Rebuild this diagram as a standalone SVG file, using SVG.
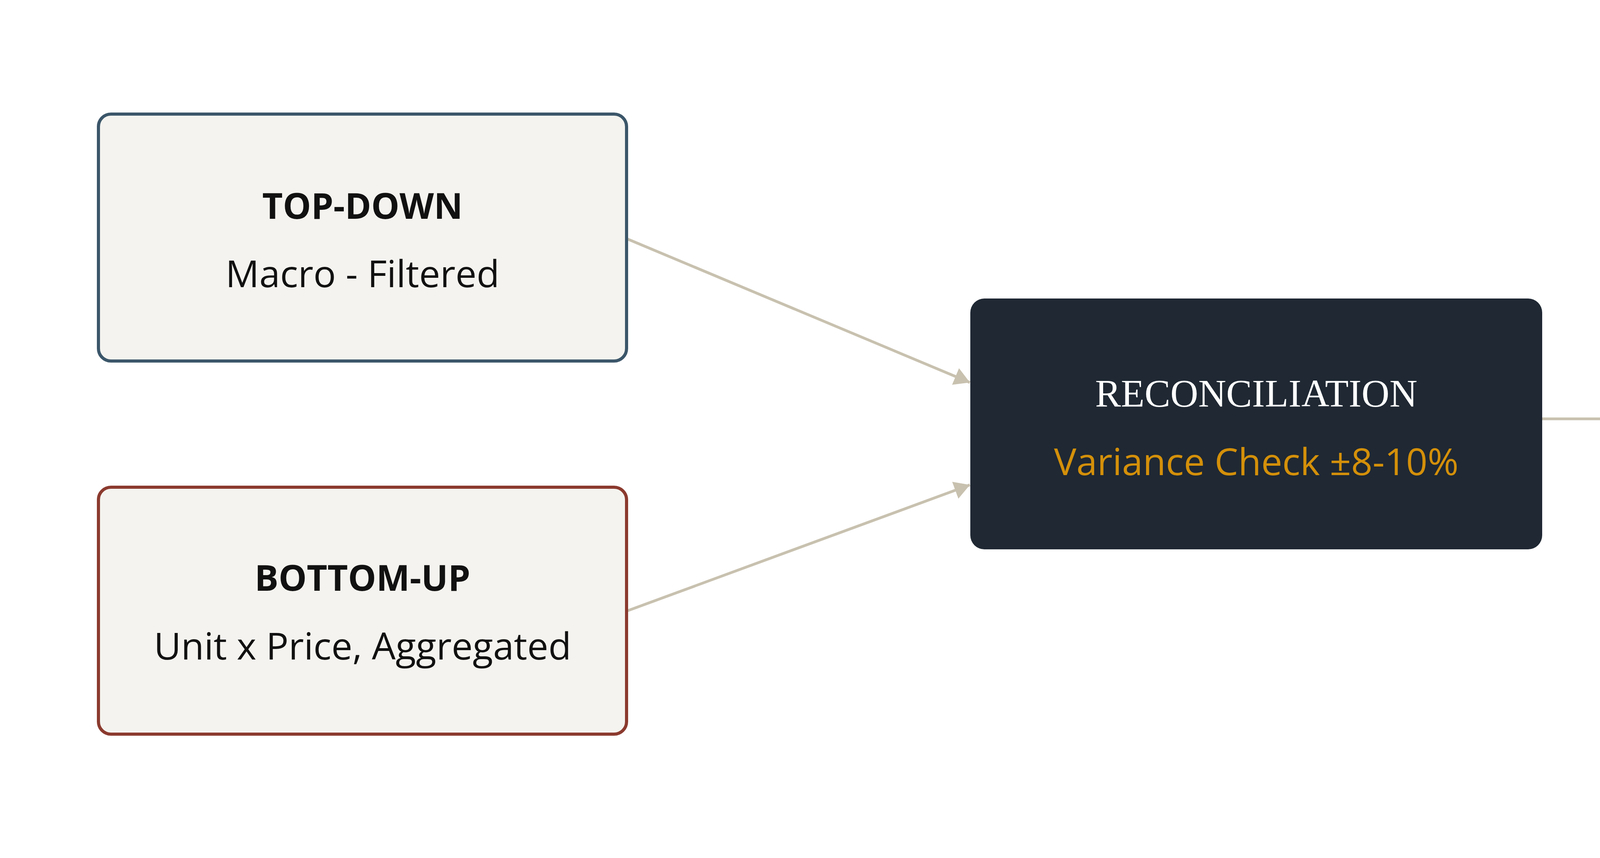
<svg xmlns="http://www.w3.org/2000/svg" width="6252" height="2196" viewBox="0 0 6252 2196">
<defs>
<style>
.box{fill:#F4F3EF;stroke-width:8}
.title{font-family:"Open Sans","Noto Sans","DejaVu Sans",sans-serif;font-weight:700;font-size:91px;fill:#111111;text-anchor:middle}
.sub{font-family:"Open Sans","Noto Sans","DejaVu Sans",sans-serif;font-weight:400;font-size:96px;fill:#111111;text-anchor:middle}
.serif{font-family:"Liberation Serif","DejaVu Serif",serif;font-size:99px;fill:#FFFFFF;text-anchor:middle}
.conn{stroke:#C8C1AF;stroke-width:7;fill:none}
</style>
<marker id="ah" markerUnits="userSpaceOnUse" markerWidth="40" markerHeight="46" refX="40" refY="23" orient="auto" viewBox="0 0 40 46">
<path d="M0,0 L40,23 L0,46 Z" fill="#C8C1AF"/>
</marker>
</defs>
<rect width="6252" height="2196" fill="#FFFFFF"/>
<g id="connectors">
<line class="conn" x1="1607" y1="612" x2="2483" y2="979" marker-end="url(#ah)"/>
<line class="conn" x1="1607" y1="1563" x2="2483" y2="1241" marker-end="url(#ah)"/>
<line class="conn" x1="3948" y1="1072" x2="4719" y2="1072" marker-end="url(#ah)"/>
</g>
<g id="top-down">
<rect class="box" x="252" y="292" width="1352" height="632" rx="32" stroke="#3B5669"/>
<text class="title" x="928" y="560">TOP-DOWN</text>
<text class="sub" x="928" y="735">Macro - Filtered</text>
</g>
<g id="bottom-up">
<rect class="box" x="252" y="1247" width="1352" height="632" rx="32" stroke="#8B3A2E"/>
<text class="title" x="928" y="1512">BOTTOM-UP</text>
<text class="sub" x="928" y="1688">Unit x Price, Aggregated</text>
</g>
<g id="reconciliation">
<rect x="2484" y="764" width="1464" height="642" rx="36" fill="#1F2833"/>
<text class="serif" x="3216" y="1040">RECONCILIATION</text>
<text class="sub" x="3216" y="1216" style="fill:#D4900A">Variance Check ±8-10%</text>
</g>
<g id="triangulated-size">
<rect class="box" x="4724" y="771" width="1299" height="632" rx="32" stroke="#D18E00"/>
<text class="title" x="5373" y="1048">TRIANGULATED SIZE</text>
<text class="sub" x="5373" y="1216">Published Estimate</text>
</g>
</svg>
